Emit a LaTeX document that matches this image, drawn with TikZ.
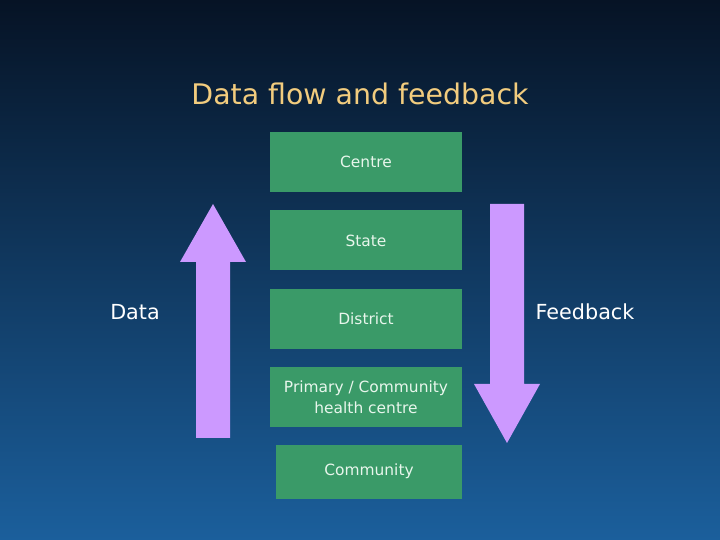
\documentclass[tikz,border=0pt]{standalone}
\usepackage{fontspec}
\setmainfont{DejaVu Sans}
\usetikzlibrary{positioning}
\definecolor{bgtop}{HTML}{061325}
\definecolor{bgbottom}{HTML}{1B5F9C}
\definecolor{boxgreen}{HTML}{3A9A68}
\definecolor{arrowlilac}{HTML}{CC99FF}
\definecolor{titlegold}{HTML}{F2CC7E}
\definecolor{boxtext}{HTML}{E8F6EC}

\begin{document}
\begin{tikzpicture}[x=1bp, y=1bp]
\tikzstyle{level}=[rectangle, fill=boxgreen, text=boxtext, minimum width=192bp, minimum height=60bp, inner sep=0pt, align=center, font=\fontsize{15.5}{21}\selectfont, node distance=18bp]
\tikzstyle{side}=[text=white, font=\fontsize{20.8}{24}\selectfont]
\tikzstyle{flow}=[fill=arrowlilac]

  % background
  \useasboundingbox (0,0) rectangle (720,540);
  \shade[top color=bgtop, bottom color=bgbottom] (0,0) rectangle (720,540);

  \node[text=titlegold, font=\fontsize{28.5}{32}\selectfont] (title) at (360,446) {Data flow and feedback};

  \node[level] (centre) at (366,378) {Centre};
  \node[level] (state) [below=of centre] {State};
  \node[level] (district) [below=of state] {District};
  \node[level] (phc) [below=of district] {Primary / Community\\health centre};
  \node[level, minimum width=186bp, minimum height=54bp] (community) [below=17bp of phc, xshift=3bp] {Community};

  \node[side] (data) at (135,228) {Data};
  \node[side] (feedback) at (585,228) {Feedback};

  % block arrows
  \fill[flow] (196,102) -- (230,102) -- (230,278) -- (246,278) -- (213,336)
        -- (180,278) -- (196,278) -- cycle;
  \fill[flow] (490,336) -- (524,336) -- (524,156) -- (540,156) -- (507,97)
        -- (474,156) -- (490,156) -- cycle;

\end{tikzpicture}
\end{document}
